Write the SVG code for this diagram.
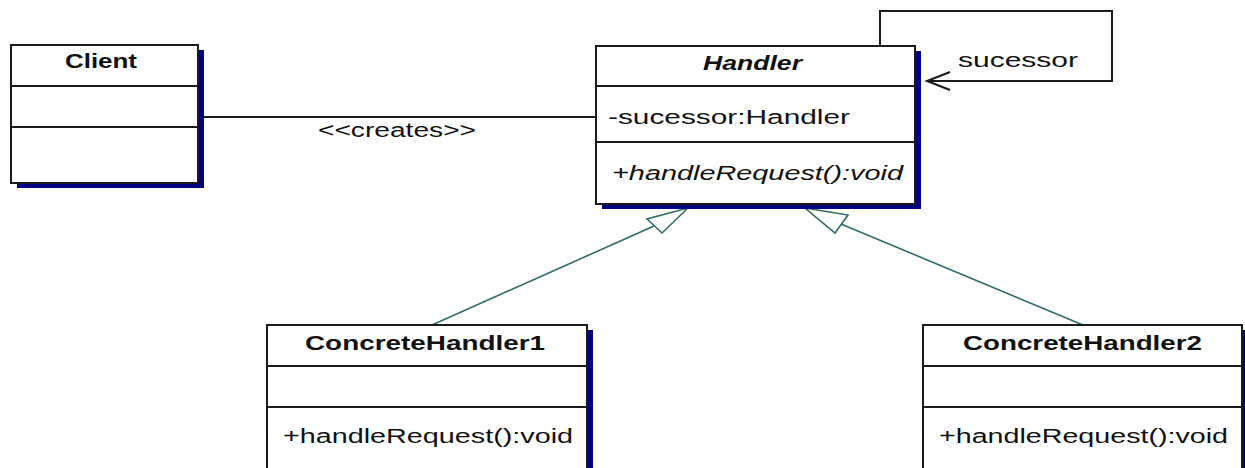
<svg xmlns="http://www.w3.org/2000/svg" width="1245" height="468" viewBox="0 0 1245 468">
  <style>
    .shadow { fill: #000080; }
    .box { fill: #ffffff; stroke: #1a1a1a; stroke-width: 2; }
    .div { stroke: #1a1a1a; stroke-width: 2; }
    .t { font-family: "Liberation Sans", Arial, sans-serif; font-size: 20px; fill: #111111; }
    .title { font-weight: bold; text-anchor: start; }
    .it { font-style: italic; }
    .gen { fill: none; stroke: #2f6b6b; stroke-width: 1.6; }
    .genhead { fill: #ffffff; stroke: #2f6b6b; stroke-width: 1.6; stroke-linejoin: miter; }
    .assoc { fill: none; stroke: #1a1a1a; stroke-width: 2; }
  </style>

  <rect width="1245" height="468" fill="#ffffff"/>

  <!-- connectors -->
  <g id="connectors">
    <!-- Client creates Handler -->
    <line class="assoc" x1="204" y1="117" x2="596" y2="117"/>
    <text class="t" x="318" y="137" textLength="158" lengthAdjust="spacingAndGlyphs">&lt;&lt;creates&gt;&gt;</text>

    <!-- self association: sucessor -->
    <polyline class="assoc" points="880,46 880,11 1112,11 1112,81 927,81"/>
    <polyline class="assoc" points="950,72 927,81 950,90" stroke-width="1.6"/>
    <text class="t" x="958" y="67" textLength="120" lengthAdjust="spacingAndGlyphs">sucessor</text>

    <!-- generalizations -->
    <line class="gen" x1="432" y1="325" x2="654" y2="226"/>
    <polygon class="genhead" points="688,208 647,219 662,233"/>
    <line class="gen" x1="1083" y1="325" x2="841" y2="224"/>
    <polygon class="genhead" points="805,208 848,215 835,233"/>
  </g>

  <!-- Client -->
  <g id="client">
    <rect class="shadow" x="17" y="50" width="187" height="138"/>
    <rect class="box" x="11" y="45" width="187" height="138"/>
    <line class="div" x1="11" y1="86" x2="198" y2="86"/>
    <line class="div" x1="11" y1="127" x2="198" y2="127"/>
    <text class="t title" x="65" y="68" textLength="72" lengthAdjust="spacingAndGlyphs">Client</text>
  </g>

  <!-- Handler -->
  <g id="handler">
    <rect class="shadow" x="602" y="51" width="319" height="158"/>
    <rect class="box" x="596" y="46" width="319" height="158"/>
    <line class="div" x1="596" y1="86" x2="915" y2="86"/>
    <line class="div" x1="596" y1="142" x2="915" y2="142"/>
    <text class="t title it" x="703" y="70" textLength="99" lengthAdjust="spacingAndGlyphs">Handler</text>
    <text class="t" x="608" y="124" textLength="242" lengthAdjust="spacingAndGlyphs">-sucessor:Handler</text>
    <text class="t it" x="612" y="180" textLength="291" lengthAdjust="spacingAndGlyphs">+handleRequest():void</text>
  </g>

  <!-- ConcreteHandler1 -->
  <g id="concrete-handler-1">
    <rect class="shadow" x="273" y="330" width="320" height="160"/>
    <rect class="box" x="267" y="325" width="320" height="160"/>
    <line class="div" x1="267" y1="366" x2="587" y2="366"/>
    <line class="div" x1="267" y1="407" x2="587" y2="407"/>
    <text class="t title" x="305" y="350" textLength="240" lengthAdjust="spacingAndGlyphs">ConcreteHandler1</text>
    <text class="t" x="283" y="443" textLength="290" lengthAdjust="spacingAndGlyphs">+handleRequest():void</text>
  </g>

  <!-- ConcreteHandler2 -->
  <g id="concrete-handler-2">
    <rect class="shadow" x="929" y="330" width="319" height="160"/>
    <rect class="box" x="923" y="325" width="319" height="160"/>
    <line class="div" x1="923" y1="366" x2="1242" y2="366"/>
    <line class="div" x1="923" y1="407" x2="1242" y2="407"/>
    <text class="t title" x="963" y="350" textLength="239" lengthAdjust="spacingAndGlyphs">ConcreteHandler2</text>
    <text class="t" x="939" y="443" textLength="289" lengthAdjust="spacingAndGlyphs">+handleRequest():void</text>
  </g>
</svg>
